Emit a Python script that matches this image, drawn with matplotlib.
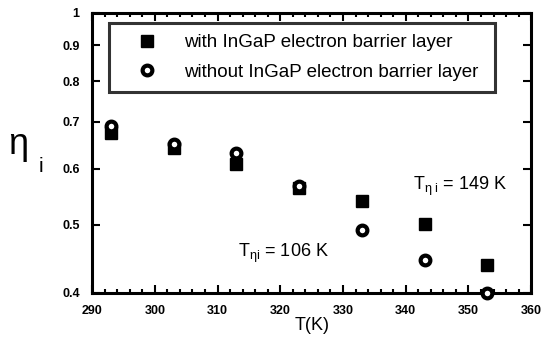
import numpy as np
import matplotlib.pyplot as plt
from matplotlib.ticker import FixedLocator, MultipleLocator, NullLocator, FixedFormatter

plt.rcParams['font.family'] = ['Liberation Sans', 'DejaVu Sans']
plt.rcParams['mathtext.fontset'] = 'custom'
plt.rcParams['mathtext.rm'] = 'Liberation Sans'
plt.rcParams['mathtext.it'] = 'Liberation Sans'

# temperatures (K)
temps = [293, 303, 313, 323, 333, 343, 353]
# internal quantum efficiency, with InGaP electron barrier layer
eta_with = [0.675, 0.643, 0.610, 0.564, 0.540, 0.501, 0.438]
# internal quantum efficiency, without barrier layer
eta_without = [0.691, 0.651, 0.632, 0.567, 0.491, 0.445, 0.400]

y_ticks = [0.4, 0.5, 0.6, 0.7, 0.8, 0.9, 1.0]
y_ticklabels = ['0.4', '0.5', '0.6', '0.7', '0.8', '0.9', '1']

fig = plt.figure(figsize=(5.42, 3.47), dpi=100)
ax = fig.add_axes([0.170, 0.156, 0.810, 0.807])

ax.plot(temps, eta_with, linestyle='none', marker='s', markersize=9,
        color='black', label='with InGaP electron barrier layer', zorder=3)
ax.plot(temps, eta_without, linestyle='none', marker='o', markersize=7,
        markerfacecolor='white', markeredgecolor='black', markeredgewidth=3.0,
        label='without InGaP electron barrier layer', zorder=4, clip_on=False)

ax.set_yscale('log')
ax.set_xlim(290, 360)
ax.set_ylim(0.4, 1.0)
ax.yaxis.set_major_locator(FixedLocator(y_ticks))
ax.yaxis.set_major_formatter(FixedFormatter(y_ticklabels))
ax.yaxis.set_minor_locator(NullLocator())
ax.xaxis.set_major_locator(MultipleLocator(10))
ax.xaxis.set_minor_locator(MultipleLocator(2))

ax.tick_params(which='both', direction='in', top=True, right=True, width=1.5)
ax.tick_params(which='major', length=6, labelsize=9)
ax.tick_params(axis='x', which='major', pad=9)
ax.tick_params(axis='y', which='major', pad=9)
ax.tick_params(which='minor', length=3)
for lbl in ax.get_xticklabels() + ax.get_yticklabels():
    lbl.set_fontweight('bold')
for s in ax.spines.values():
    s.set_linewidth(2.2)

ax.set_xlabel('T(K)', fontsize=13, labelpad=0)

fig.text(0.015, 0.555, '\u03b7', fontsize=26, ha='left', va='baseline')
fig.text(0.072, 0.505, 'i', fontsize=15, ha='left', va='baseline')

ax.text(0.731, 0.368, r'$\mathregular{T_{\eta\ i}}$ = 149 K', transform=ax.transAxes,
        fontsize=13, ha='left', va='baseline')
ax.text(0.332, 0.129, r'$\mathregular{T_{\eta i}}$ = 106 K', transform=ax.transAxes,
        fontsize=13, ha='left', va='baseline')

leg = ax.legend(loc='upper left', bbox_to_anchor=(0.039, 0.5, 0.878, 0.464),
                mode='expand', fontsize=13.5,
                frameon=True, fancybox=False, edgecolor='black', borderpad=0.6,
                borderaxespad=0, handletextpad=0.6, handlelength=2.8,
                labelspacing=0.66)
leg.get_frame().set_linewidth(2.2)

fig.savefig('out.png', dpi=100)
